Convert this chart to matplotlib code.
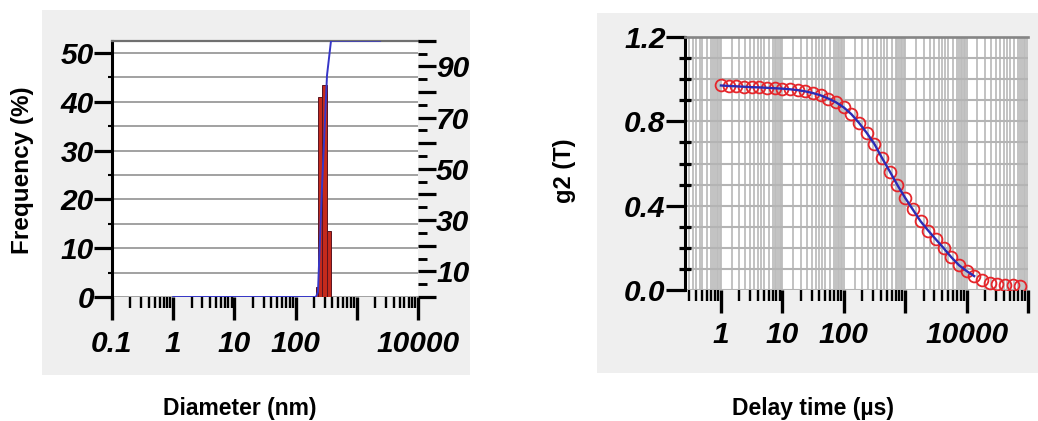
import numpy as np
import matplotlib
matplotlib.use("Agg")
import matplotlib.pyplot as plt
from matplotlib import font_manager as fm
from matplotlib.ticker import FixedLocator, FixedFormatter, LogLocator, MultipleLocator, NullFormatter
from matplotlib.patches import Rectangle

# ---------------- data ----------------
# size distribution (left panel)
bin_edges_nm = [215, 232, 270, 326, 379]
freq_pct = [2.0, 41.0, 43.5, 13.5]
cum_start_nm = 1
cum_end_nm = 2400

size_ticks = [0.1, 1, 10, 100, 1000, 10000]
size_ticklabels = ["0.1", "1", "10", "100", "", "10000"]
freq_ticks = [0, 10, 20, 30, 40, 50]
cum_ticks = [10, 30, 50, 70, 90]

# correlation function (right panel)
delay_us = [1, 1.33, 1.78, 2.37, 3.16, 4.22, 5.62, 7.5, 10, 13.3, 17.8, 23.7,
            31.6, 42.2, 56.2, 75, 100, 133, 178, 237, 316, 422, 562, 750,
            1000, 1330, 1780, 2370, 3160, 4220, 5620, 7500, 10000, 13300,
            17800, 23700, 31600, 42200, 56200, 75000]
g2_vals = [0.970, 0.968, 0.966, 0.964, 0.962, 0.961, 0.959, 0.957, 0.955,
           0.952, 0.948, 0.942, 0.934, 0.923, 0.908, 0.890, 0.866, 0.834,
           0.792, 0.745, 0.692, 0.625, 0.562, 0.497, 0.437, 0.382, 0.326,
           0.282, 0.240, 0.199, 0.156, 0.118, 0.090, 0.066, 0.048, 0.035,
           0.027, 0.025, 0.026, 0.019]
fit_max_us = 15000
delay_ticks = [1, 10, 100, 1000, 10000, 100000]
delay_ticklabels = ["1", "10", "100", "", "10000", ""]
g2_ticks = [0.0, 0.4, 0.8, 1.2]
g2_ticklabels = ["0.0", "0.4", "0.8", "1.2"]

# ---------------- fonts ----------------
names = {f.name for f in fm.fontManager.ttflist}
narrow = "Liberation Sans Narrow" if "Liberation Sans Narrow" in names else "Liberation Sans"
tick_size = 23 if narrow == "Liberation Sans Narrow" else 21.5
tickfont = dict(family=narrow, weight="bold", style="italic", size=tick_size)

W, H = 1038, 421
fig = plt.figure(figsize=(W / 100, H / 100), dpi=100)
fig.patch.set_facecolor("white")

def fx(px):
    return px / W

def fy(py):
    return 1 - py / H

# gray panels
fig.patches.append(Rectangle((fx(42), fy(375)), fx(470) - fx(42), fy(10) - fy(375),
                             transform=fig.transFigure, facecolor="#efefef", edgecolor="none", zorder=-5))
fig.patches.append(Rectangle((fx(597), fy(373)), fx(1038) - fx(597), fy(13) - fy(373),
                             transform=fig.transFigure, facecolor="#efefef", edgecolor="none", zorder=-5))

# ================= left panel =================
ax = fig.add_axes([fx(112), fy(297), fx(418) - fx(112), fy(40.7) - fy(297)])
ax.set_facecolor("white")
ax.set_xscale("log")
ax.set_xlim(0.1, 10000)
ax.set_ylim(0, 52.5)
ax.set_axisbelow(True)

lefts = bin_edges_nm[:-1]
widths = [b - a for a, b in zip(bin_edges_nm[:-1], bin_edges_nm[1:])]
ax.bar(lefts, freq_pct, width=widths, align="edge", color="#c42a1c",
       edgecolor="#5a1420", linewidth=0.7, zorder=3)

ax.xaxis.set_major_locator(FixedLocator(size_ticks))
ax.xaxis.set_major_formatter(FixedFormatter(size_ticklabels))
ax.xaxis.set_minor_locator(LogLocator(base=10, subs=np.arange(2, 10), numticks=20))
ax.xaxis.set_minor_formatter(NullFormatter())
ax.yaxis.set_major_locator(FixedLocator(freq_ticks))
ax.yaxis.set_minor_locator(MultipleLocator(5))
ax.tick_params(axis="x", which="major", direction="out", length=16.5, width=2.4, pad=7, color="black")
ax.tick_params(axis="x", which="minor", direction="out", length=8, width=1.7, color="black")
ax.tick_params(axis="y", which="major", direction="out", length=13, width=2.3, pad=0, color="black")
ax.tick_params(axis="y", which="minor", direction="out", length=3, width=1.5, color="black")
for lab in ax.get_xticklabels() + ax.get_yticklabels():
    lab.set_fontproperties(fm.FontProperties(**tickfont))
ax.grid(True, axis="y", which="both", color="#9a9a9a", linewidth=1.3)
ax.grid(False, axis="x")
for s in ["bottom", "right"]:
    ax.spines[s].set_visible(False)
ax.spines["top"].set_color("#707070")
ax.spines["top"].set_linewidth(1.6)
ax.spines["left"].set_color("black")
ax.spines["left"].set_linewidth(2.2)

axr = ax.twinx()
axr.set_ylim(0, 100)
cum_x = [cum_start_nm] + list(bin_edges_nm) + [cum_end_nm]
cum_y = [0.0] + list(np.concatenate([[0.0], np.cumsum(freq_pct)])) + [100.0]
axr.plot(cum_x, cum_y, color="#3636c8", linewidth=1.4, zorder=4)
axr.yaxis.set_major_locator(FixedLocator(list(range(0, 101, 10))))
axr.yaxis.set_major_formatter(FixedFormatter(["" if v not in cum_ticks else str(v) for v in range(0, 101, 10)]))
axr.yaxis.set_minor_locator(MultipleLocator(5))
axr.tick_params(axis="y", which="major", direction="out", length=13, width=2.3, pad=0)
axr.tick_params(axis="y", which="minor", direction="out", length=6.5, width=2.1)
for lab in axr.get_yticklabels():
    lab.set_fontproperties(fm.FontProperties(**tickfont))
for s in axr.spines.values():
    s.set_visible(False)

# ================= right panel =================
bx = fig.add_axes([fx(685), fy(290), fx(1028) - fx(685), fy(37) - fy(290)])
bx.set_facecolor("white")
bx.set_xscale("log")
bx.set_xlim(0.26, 100000)
bx.set_ylim(0, 1.2)
bx.set_axisbelow(True)

# dense vertical grid
grid_subs = [1, 1.5, 2, 2.5, 3, 3.5, 4, 4.5, 5, 6, 7, 7.5, 8, 8.5, 9, 9.5]
for d in range(-1, 5):
    for sub in grid_subs:
        xv = sub * 10.0 ** d
        if 0.26 < xv < 100000:
            bx.axvline(xv, color="#bdbdbd", linewidth=1.3, zorder=0.5)
bx.yaxis.set_minor_locator(MultipleLocator(0.1))
bx.grid(True, axis="y", which="both", color="#b4b4b4", linewidth=1.5)

dly = np.array(delay_us)
g2 = np.array(g2_vals)
bx.plot(dly, g2, linestyle="none", marker="o", markersize=8.5, markerfacecolor="none",
        markeredgecolor="#e5262b", markeredgewidth=1.3, zorder=3)
m = dly <= fit_max_us
bx.plot(dly[m], g2[m], color="#2b2bb5", linewidth=1.7, zorder=4)

bx.xaxis.set_major_locator(FixedLocator(delay_ticks))
bx.xaxis.set_major_formatter(FixedFormatter(delay_ticklabels))
bx.xaxis.set_minor_locator(LogLocator(base=10, subs=np.arange(2, 10), numticks=20))
bx.xaxis.set_minor_formatter(NullFormatter())
bx.yaxis.set_major_locator(FixedLocator(g2_ticks))
bx.yaxis.set_major_formatter(FixedFormatter(g2_ticklabels))
bx.tick_params(axis="x", which="major", direction="out", length=16.5, width=2.4, pad=6)
bx.tick_params(axis="x", which="minor", direction="out", length=8, width=1.7)
bx.tick_params(axis="y", which="major", direction="out", length=14, width=2.3, pad=0)
bx.tick_params(axis="y", which="minor", direction="inout", length=9, width=2.3)
for lab in bx.get_xticklabels() + bx.get_yticklabels():
    lab.set_fontproperties(fm.FontProperties(**tickfont))
for s in ["bottom", "right"]:
    bx.spines[s].set_visible(False)
bx.spines["top"].set_color("#858585")
bx.spines["top"].set_linewidth(1.9)
bx.spines["left"].set_color("black")
bx.spines["left"].set_linewidth(2.2)

# ================= labels =================
lab_font = dict(family="Liberation Sans", weight="bold")
fig.text(fx(23), fy(170), "Frequency (%)", rotation=90, ha="center", va="center", fontsize=17.5, **lab_font)
fig.text(fx(565), fy(171), "g2 (T)", rotation=90, ha="center", va="center", fontsize=17, **lab_font)
fig.text(fx(240), fy(408), "Diameter (nm)", ha="center", va="center", fontsize=16.5,
         family=narrow, weight="bold")
fig.text(fx(813), fy(408), "Delay time (µs)", ha="center", va="center", fontsize=16.5,
         family=narrow, weight="bold")

fig.savefig("out.png", dpi=100)
